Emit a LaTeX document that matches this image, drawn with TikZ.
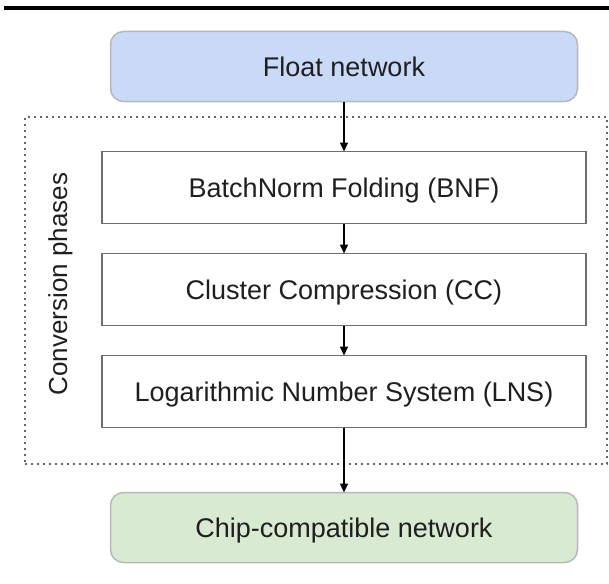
\documentclass[tikz,border=0pt]{standalone}
\usepackage{fontspec}
\setmainfont{Liberation Sans}
\usetikzlibrary{arrows.meta, positioning}

\definecolor{floatblue}{HTML}{C9DAF8}
\definecolor{chipgreen}{HTML}{D9EAD3}
\definecolor{netborder}{HTML}{B7B7B7}
\definecolor{phaseborder}{HTML}{6E6E6E}
\definecolor{textdark}{HTML}{1F1F1F}

\begin{document}
\begin{tikzpicture}[
  x=1pt, y=-1pt,
  font=\fontsize{27}{32}\selectfont, text=textdark,
  netbox/.style={draw=netborder, line width=1.5pt, rounded corners=13pt, minimum width=467pt, minimum height=70pt, inner sep=0pt, outer sep=0pt, text height=19.5pt, text depth=0pt},
  phasebox/.style={draw=phaseborder, line width=1.5pt, fill=white, minimum width=484pt, minimum height=72pt, inner sep=0pt, outer sep=0pt, text height=19.5pt, text depth=0pt},
  groupbox/.style={draw=gray!80!black, line width=1.6pt, dash pattern=on 1.6pt off 4.4pt, minimum width=582pt, minimum height=347pt, inner sep=0pt},
  arrow/.style={line width=1.5pt, draw=black, -{Triangle[length=9pt,width=8pt]}}
]
  \useasboundingbox (0,0) rectangle (609,583);
  \draw[line width=3.5pt] (4,8) -- (609,8);

  \node (phases) [groupbox] at (316,290.5) {};
  \node (label) [rotate=90, anchor=base, font=\fontsize{26}{31}\selectfont] at (67,284) {Conversion phases};

  \node (float) [netbox, fill=floatblue] at (344,66.5) {Float network};
  \node (bnf) [phasebox, below=50pt of float] {BatchNorm Folding (BNF)};
  \node (cc) [phasebox, below=30pt of bnf] {Cluster Compression (CC)};
  \node (lns) [phasebox, below=30pt of cc] {Logarithmic Number System (LNS)};
  \node (chip) [netbox, fill=chipgreen, below=65pt of lns] {Chip-compatible network};

  \draw [arrow] (float) -- (bnf);
  \draw [arrow] (bnf) -- (cc);
  \draw [arrow] (cc) -- (lns);
  \draw [arrow] (lns) -- (chip);
\end{tikzpicture}
\end{document}
